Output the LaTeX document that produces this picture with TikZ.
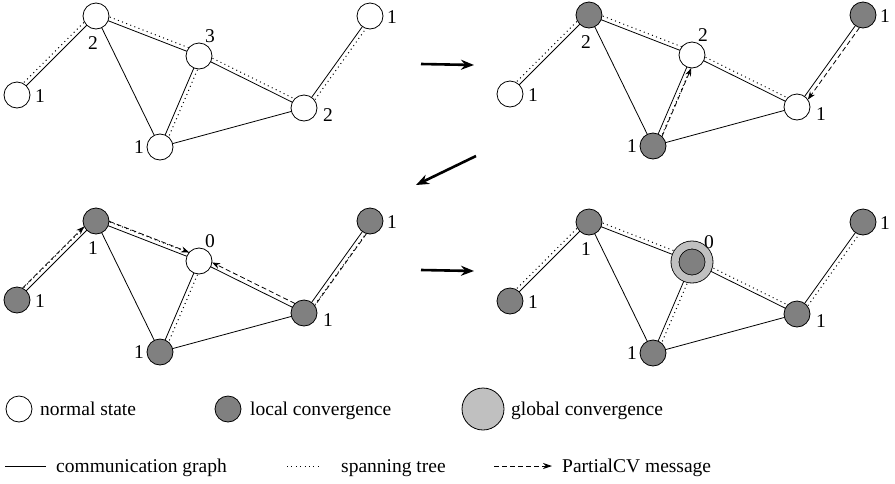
\documentclass[tikz,border=0pt]{standalone}
\usepackage{fontspec}
\setmainfont{Liberation Serif}
\usetikzlibrary{calc,arrows.meta}
\definecolor{localgray}{RGB}{128,128,128}
\definecolor{globalgray}{RGB}{192,192,192}
\pgfdeclarelayer{bg}
\pgfsetlayers{bg,main}

\tikzset{
  vtx/.style={circle,draw,line width=0.8pt,minimum size=26pt,inner sep=0pt},
  plain/.style={vtx,fill=white},
  localcv/.style={vtx,fill=localgray},
  globalcv/.style={circle,draw,line width=0.8pt,fill=globalgray,minimum size=42pt,inner sep=0pt},
  globalvx/.style={circle,draw,line width=0.8pt,fill=localgray,double=globalgray,
    double distance=7.2pt,minimum size=34pt,inner sep=0pt},
  num/.style={font=\fontsize{19.5}{19.5}\selectfont,inner sep=0pt},
  comm/.style={line width=0.8pt},
  tree/.style={line width=1pt,dash pattern=on 1pt off 3.4pt},
  msg/.style={line width=0.8pt,dash pattern=on 5pt off 3pt},
  msgtip/.style={msg,-{Stealth[length=8pt,width=6pt]},shorten >=12.4pt,shorten <=12.4pt},
  flow/.style={line width=2.6pt,-{Stealth[length=13pt,width=10pt]}},
}

% line running beside the edge #2--#3, shifted sideways by #4
\newcommand\offsetline[4][]{%
  \draw[#1] ($(#2.center)!#4!90:(#3.center)$) -- ($(#3.center)!#4!-90:(#2.center)$);}

% the six vertices of one graph and its communication edges
\newcommand\graphpanel[7]{%
  \node[#2] (#1A) at (96,16) {};
  \node[#3] (#1B) at (17,95) {};
  \node[#4] (#1C) at (199,56) {};
  \node[#5] (#1D) at (160,147) {};
  \node[#6] (#1E) at (304,108) {};
  \node[#7] (#1F) at (370,16) {};
  \begin{pgfonlayer}{bg}
    \draw[comm] (#1A.center) -- (#1B.center);
    \draw[comm] (#1A.center) -- (#1C.center);
    \draw[comm] (#1A.center) -- (#1D.center);
    \draw[comm] (#1C.center) -- (#1D.center);
    \draw[comm] (#1C.center) -- (#1E.center);
    \draw[comm] (#1D.center) -- (#1E.center);
    \draw[comm] (#1E.center) -- (#1F.center);
  \end{pgfonlayer}}

% the distance values written beside the vertices
\newcommand\graphlabels[8]{%
  \node[num] (#1Al) at ($(#1A)+(-3,27)$) {#2};
  \node[num] (#1Bl) at ($(#1B)+(23,1)$) {#3};
  \node[num] (#1Cl) at ($(#1C)+(#8,-20)$) {#4};
  \node[num] (#1Dl) at ($(#1D)+(-21,0)$) {#5};
  \node[num] (#1El) at ($(#1E)+(24,7)$) {#6};
  \node[num] (#1Fl) at ($(#1F)+(22,1)$) {#7};}

\begin{document}
\begin{tikzpicture}[x=1pt,y=-1pt]
\useasboundingbox (0,0) rectangle (895,483);

% ---- step 1
\graphpanel{p}{plain}{plain}{plain}{plain}{plain}{plain}
\graphlabels{p}{2}{1}{3}{1}{2}{1}{11}
\begin{pgfonlayer}{bg}
  \offsetline[tree]{pA}{pB}{-4pt}
  \offsetline[tree]{pA}{pC}{4pt}
  \offsetline[tree]{pC}{pD}{4pt}
  \offsetline[tree]{pC}{pE}{4pt}
  \offsetline[tree]{pE}{pF}{-4pt}
\end{pgfonlayer}

% ---- step 2
\begin{scope}[shift={(493,-1)}]
\graphpanel{q}{localcv}{plain}{plain}{localcv}{plain}{localcv}
\graphlabels{q}{2}{1}{2}{1}{1}{1}{11}
\begin{pgfonlayer}{bg}
  \offsetline[tree]{qA}{qB}{-4pt}
  \offsetline[tree]{qA}{qC}{4pt}
  \offsetline[tree]{qC}{qD}{4pt}
  \offsetline[tree]{qC}{qE}{4pt}
\end{pgfonlayer}
\offsetline[msgtip]{qD}{qC}{-4.5pt}
\offsetline[msgtip]{qF}{qE}{4.5pt}
\end{scope}

% ---- step 3
\begin{scope}[shift={(0,205)}]
\graphpanel{r}{localcv}{localcv}{plain}{localcv}{localcv}{localcv}
\graphlabels{r}{1}{1}{0}{1}{1}{1}{11}
\begin{pgfonlayer}{bg}
  \offsetline[tree]{rA}{rB}{-4pt}
  \offsetline[tree]{rA}{rC}{4pt}
  \offsetline[tree]{rC}{rD}{4pt}
  \offsetline[tree]{rE}{rF}{-4pt}
  \offsetline[msg]{rE}{rF}{-4.5pt}
\end{pgfonlayer}
\offsetline[msgtip]{rB}{rA}{4.5pt}
\offsetline[msgtip]{rA}{rC}{4.5pt}
\offsetline[msgtip]{rE}{rC}{-4.5pt}
\end{scope}

% ---- step 4
\begin{scope}[shift={(493,206)}]
\graphpanel{s}{localcv}{localcv}{globalvx}{localcv}{localcv}{localcv}
\graphlabels{s}{1}{1}{0}{1}{1}{1}{17}
\begin{pgfonlayer}{bg}
  \offsetline[tree]{sA}{sB}{-4pt}
  \offsetline[tree]{sA}{sC}{4pt}
  \offsetline[tree]{sC}{sD}{4pt}
  \offsetline[tree]{sC}{sE}{4pt}
  \offsetline[tree]{sE}{sF}{-4pt}
\end{pgfonlayer}
\end{scope}

% ---- transitions between steps
\coordinate (t1s) at (421,64);  \coordinate (t1e) at (474,65);
\coordinate (t2s) at (476,156); \coordinate (t2e) at (416,185);
\coordinate (t3s) at (421,270); \coordinate (t3e) at (474,271);
\draw[flow] (t1s) -- (t1e);
\draw[flow] (t2s) -- (t2e);
\draw[flow] (t3s) -- (t3e);

% ---- legend
\node[plain] (lgN) at (19,409) {};
\node[num,anchor=base west] (lgNt) at (40,415) {normal state};
\node[localcv] (lgL) at (228,409) {};
\node[num,anchor=base west] (lgLt) at (250,415) {local convergence};
\node[globalcv] (lgG) at (483,409) {};
\node[num,anchor=base west] (lgGt) at (511,415) {global convergence};

\coordinate (lc1) at (5,466);   \coordinate (lc2) at (46,466);
\coordinate (lt1) at (287,466); \coordinate (lt2) at (322,466);
\coordinate (lm1) at (494,466); \coordinate (lm2) at (552,466);
\draw[comm] (lc1) -- (lc2);
\draw[tree] (lt1) -- (lt2);
\draw[msg,-{Stealth[length=9pt,width=6pt]}] (lm1) -- (lm2);
\node[num,anchor=base west] (lct) at (56,472) {communication graph};
\node[num,anchor=base west] (ltt) at (341,472) {spanning tree};
\node[num,anchor=base west] (lmt) at (562,472) {PartialCV message};
\end{tikzpicture}
\end{document}
